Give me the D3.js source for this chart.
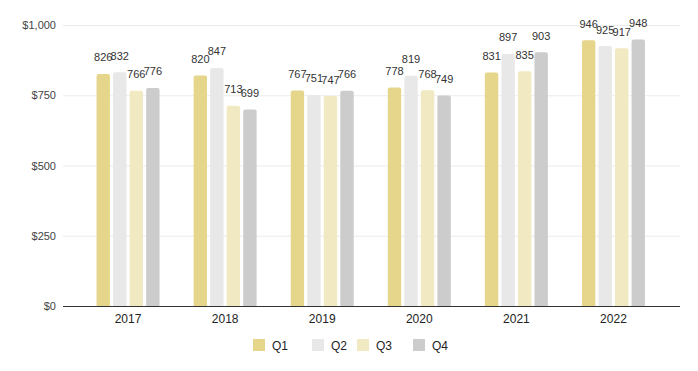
<!DOCTYPE html>
<html>
<head>
<meta charset="utf-8">
<script src="https://cdn.jsdelivr.net/npm/d3@7"></script>
<style>
  body { margin: 0; background: #fff; }
  svg { font-family: "Liberation Sans", Arial, sans-serif; }
</style>
</head>
<body>
<div id="chart"></div>
<script>
// data
var years    = ["2017", "2018", "2019", "2020", "2021", "2022"];
var quarters = ["Q1", "Q2", "Q3", "Q4"];
var q1 = [826, 820, 767, 778, 831, 946];
var q2 = [832, 847, 751, 819, 897, 925];
var q3 = [766, 713, 747, 768, 835, 917];
var q4 = [776, 699, 766, 749, 903, 948];
var yTicks = [0, 250, 500, 750, 1000];

var colors = ["#e6d68b", "#e8e8e8", "#f1e9c2", "#cccccc"];
var series = [q1, q2, q3, q4];

var rows = years.map(function(y, i) {
    return { year: y, values: quarters.map(function(q, j) { return { q: q, v: series[j][i] }; }) };
});

var width = 698, height = 371;
var plotLeft = 63, plotRight = 680, plotTop = 25, plotBottom = 306;

var svg = d3.select("#chart").append("svg")
            .attr("width", width)
            .attr("height", height);

var x0 = d3.scaleBand().domain(years).range([79.5, 662]);
var x1 = d3.scaleBand().domain(quarters).range([0, 63]).paddingInner(0.19);
var y  = d3.scaleLinear().domain([0, 1000]).range([plotBottom, plotTop]);

// grid lines
svg.append("g")
   .selectAll("line")
   .data(yTicks.slice(1))
   .enter()
   .append("line")
       .attr("x1", plotLeft).attr("x2", plotRight)
       .attr("y1", function(d) { return y(d) + 0.5; })
       .attr("y2", function(d) { return y(d) + 0.5; })
       .attr("stroke", "#ebebeb");

// y axis labels
var yAxis = d3.axisLeft(y).tickValues(yTicks).tickSize(0).tickPadding(7)
              .tickFormat(function(d) { return "$" + d3.format(",")(d); });
svg.append("g")
   .attr("transform", "translate(" + plotLeft + ",0)")
   .call(yAxis)
   .call(function(g) { g.select(".domain").remove(); })
   .selectAll("text")
       .style("font-size", "11px")
       .style("fill", "#444")
       .style("font-family", "inherit");

// bars
var groups = svg.append("g")
                .selectAll("g")
                .data(rows)
                .enter()
                .append("g")
                .attr("transform", function(d) { return "translate(" + (x0(d.year) + x0.bandwidth() / 2 - 31.5) + ",0)"; });

groups.selectAll("path")
      .data(function(d) { return d.values; })
      .enter()
      .append("path")
      .attr("d", function(d) {
          var bx = x1(d.q), bw = x1.bandwidth(), top = y(d.v), bot = y(0), r = 2;
          return "M" + bx + "," + bot + "V" + (top + r) +
                 "Q" + bx + "," + top + " " + (bx + r) + "," + top +
                 "H" + (bx + bw - r) +
                 "Q" + (bx + bw) + "," + top + " " + (bx + bw) + "," + (top + r) +
                 "V" + bot + "Z";
      })
      .attr("fill", function(d, i) { return colors[i]; });

groups.selectAll("text")
      .data(function(d) { return d.values; })
      .enter()
      .append("text")
      .text(function(d) { return d.v; })
      .attr("text-anchor", "middle")
      .attr("x", function(d) { return x1(d.q) + x1.bandwidth() / 2; })
      .attr("y", function(d) { return y(d.v) - 12.5; })
      .style("font-size", "11px")
      .style("fill", "#333");

// baseline
svg.append("line")
   .attr("x1", plotLeft).attr("x2", plotRight)
   .attr("y1", plotBottom + 0.5).attr("y2", plotBottom + 0.5)
   .attr("stroke", "#333");

// x axis labels
var xAxis = d3.axisBottom(x0).tickSize(0).tickPadding(8);
svg.append("g")
   .attr("transform", "translate(0," + plotBottom + ")")
   .call(xAxis)
   .call(function(g) { g.select(".domain").remove(); })
   .selectAll("text")
       .style("font-size", "12px")
       .style("fill", "#222")
       .style("font-family", "inherit");

// legend
var legendX = [253, 312, 357, 413];
var legend = svg.append("g")
                .selectAll("g")
                .data(quarters)
                .enter()
                .append("g")
                .attr("transform", function(d, i) { return "translate(" + legendX[i] + ",339)"; });
legend.append("rect")
      .attr("width", 12).attr("height", 12)
      .attr("fill", function(d, i) { return colors[i]; });
legend.append("text")
      .text(function(d) { return d; })
      .attr("x", 19).attr("y", 10.5)
      .style("font-size", "12px")
      .style("fill", "#222");
</script>
</body>
</html>
